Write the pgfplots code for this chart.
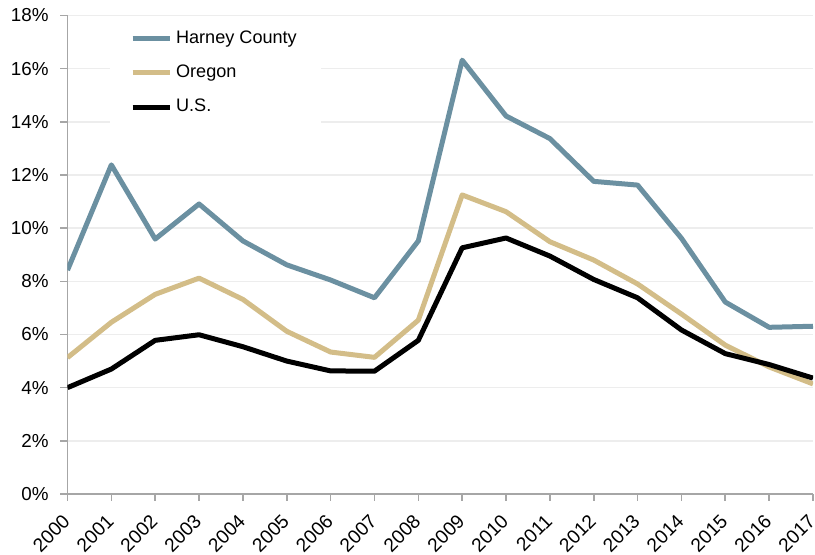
\documentclass[border=0pt]{standalone}
\usepackage{pgfplots}
\pgfplotsset{compat=1.18}
\usepackage{fontspec}
\setmainfont{Liberation Sans}
\definecolor{harney}{HTML}{6B90A1}
\definecolor{oregon}{HTML}{D3BD88}
\definecolor{axgray}{HTML}{A6A6A6}
\definecolor{gridgray}{HTML}{EDEDED}
\begin{document}
\begin{tikzpicture}
\begin{axis}[
  axis x line*=bottom, axis y line*=left,
  scale only axis,
  width=372.75pt, height=239.25pt,
  xmin=2000, xmax=2017, ymin=0, ymax=18,
  xtick={2000,2001,...,2017},
  ytick={0,2,...,18},
  /pgf/number format/assume math mode=true,
  xticklabel={\pgfmathprintnumber[1000 sep={}]{\tick}},
  yticklabel={\pgfmathprintnumber{\tick}\%},
  axis line style={axgray, line width=0.8pt, -},
  tick style={axgray, line width=0.8pt},
  tick align=outside,
  major tick length=3.5pt,
  ymajorgrids, grid style={gridgray, line width=0.8pt},
  x tick label style={xshift=-0.6pt, yshift=-8.3pt, rotate=45, anchor=east, font=\fontsize{9.6}{11}\selectfont, inner sep=0pt, text height=7pt, text depth=0pt},
  y tick label style={font=\fontsize{9.4}{11}\selectfont, inner sep=0pt, xshift=-5.8pt},
  legend cell align=left,
  legend style={at={(0.0566,0.994)}, anchor=north west, draw=none, fill=white,
    font=\fontsize{9.05}{11}\selectfont, row sep=5.3pt, inner xsep=10pt, inner ysep=4pt},
  legend image code/.code={\draw[#1, line width=2.5pt] (0pt,0pt) -- (18.5pt,0pt);},
  every axis plot/.append style={line width=2.5pt, line join=round},
]
\addplot[harney] coordinates {
(2000,8.42) (2001,12.38) (2002,9.59) (2003,10.91) (2004,9.52) (2005,8.62)
(2006,8.05) (2007,7.38) (2008,9.52) (2009,16.32) (2010,14.22) (2011,13.37)
(2012,11.76) (2013,11.62) (2014,9.62) (2015,7.22) (2016,6.27) (2017,6.31)};
\addlegendentry{Harney County}
\addplot[oregon] coordinates {
(2000,5.13) (2001,6.46) (2002,7.51) (2003,8.12) (2004,7.32) (2005,6.12)
(2006,5.34) (2007,5.14) (2008,6.54) (2009,11.25) (2010,10.62) (2011,9.49)
(2012,8.8) (2013,7.9) (2014,6.77) (2015,5.6) (2016,4.78) (2017,4.14)};
\addlegendentry{Oregon}
\addplot[black] coordinates {
(2000,4.0) (2001,4.7) (2002,5.78) (2003,5.99) (2004,5.54) (2005,5.0)
(2006,4.63) (2007,4.62) (2008,5.78) (2009,9.26) (2010,9.63) (2011,8.95)
(2012,8.07) (2013,7.38) (2014,6.17) (2015,5.28) (2016,4.87) (2017,4.36)};
\addlegendentry{U.S.}
\end{axis}
\pgfresetboundingbox
\path ([xshift=-33.75pt,yshift=-30.5pt]current axis.south west) rectangle ([xshift=1pt,yshift=7.75pt]current axis.north east);
\end{tikzpicture}
\end{document}
